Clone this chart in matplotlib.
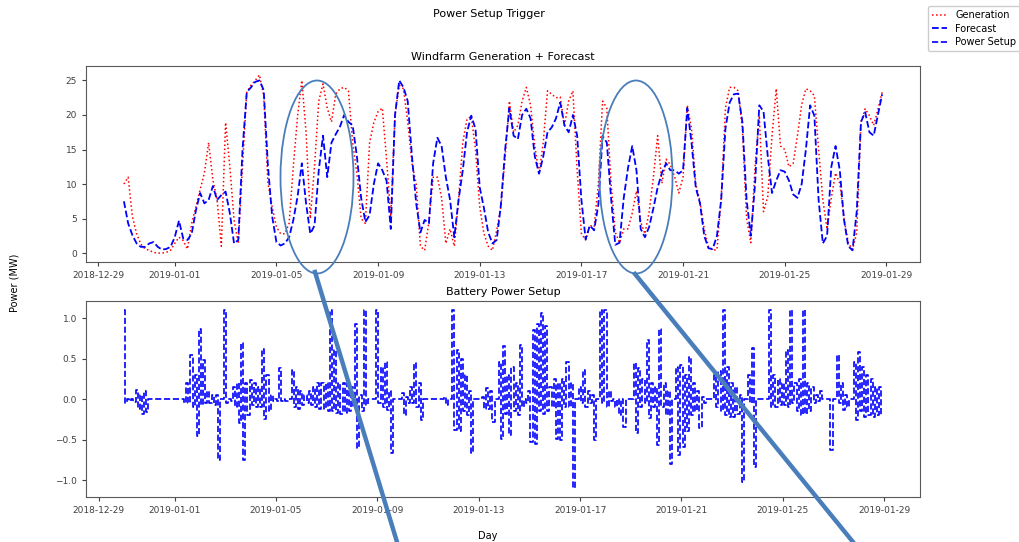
import numpy as np
import pandas as pd
import matplotlib
matplotlib.use('Agg')
import matplotlib.pyplot as plt
import matplotlib.dates as mdates
from matplotlib.patches import Ellipse
from matplotlib.lines import Line2D

# 4-hourly windfarm values (MW), starting 2018-12-30 00:00
generation = [
    10.0, 11.0, 5.3, 2.8, 1.3, 0.6,
    0.4, 0.1, 0.0, 0.0, 0.1, 0.4,
    1.4, 2.3, 1.8, 0.6, 4.3, 6.7,
    9.2, 11.6, 16.0, 10.6, 7.7, 1.0,
    18.9, 12.6, 4.8, 1.4, 12.6, 23.3,
    24.3, 25.0, 25.8, 22.8, 10.1, 6.7,
    3.8, 2.8, 2.8, 4.3, 12.6, 19.9,
    25.0, 17.5, 5.0, 12.6, 22.0, 24.5,
    21.0, 19.0, 23.0, 23.8, 24.0, 23.5,
    16.0, 11.5, 5.0, 4.3, 16.0, 18.9,
    20.5, 21.0, 13.6, 5.3, 20.0, 24.3,
    23.8, 19.0, 13.0, 10.0, 1.0, 0.4,
    4.5, 11.0, 11.0, 8.0, 1.4, 3.5,
    1.0, 7.7, 16.0, 19.4, 19.8, 15.0,
    6.7, 2.8, 1.0, 0.4, 3.3, 6.7,
    14.0, 22.0, 17.5, 18.5, 22.0, 24.0,
    21.4, 15.5, 11.5, 16.0, 23.5, 23.0,
    22.5, 22.6, 18.5, 22.0, 23.5, 12.0,
    2.8, 1.9, 4.0, 3.8, 10.0, 22.0,
    21.0, 10.1, 3.0, 1.5, 3.5, 3.5,
    5.8, 9.0, 4.5, 2.8, 6.0, 11.0,
    17.0, 10.1, 13.6, 12.8, 11.1, 8.7,
    11.0, 21.4, 18.0, 10.0, 7.5, 3.5,
    0.9, 0.4, 0.5, 8.0, 21.0, 24.0,
    24.0, 23.5, 18.0, 5.0, 1.5, 12.6,
    19.9, 6.0, 8.2, 17.0, 23.8, 15.5,
    15.0, 12.5, 13.0, 17.0, 21.5, 23.8,
    23.5, 22.8, 15.0, 7.7, 3.5, 8.0,
    11.6, 10.1, 5.0, 1.5, 0.5, 3.0,
    19.0, 20.9, 19.9, 18.5, 20.8, 23.3,
]
forecast = [
    7.5, 4.3, 2.6, 1.4, 0.9, 0.9,
    1.4, 1.6, 0.9, 0.5, 0.6, 0.9,
    2.3, 4.7, 2.1, 1.9, 2.8, 6.2,
    8.7, 7.2, 7.7, 9.7, 7.7, 8.4,
    8.9, 5.8, 1.4, 1.9, 15.0, 23.3,
    24.0, 24.8, 25.0, 23.6, 12.6, 5.3,
    1.6, 1.1, 1.4, 2.3, 4.8, 8.2,
    13.0, 7.2, 2.8, 4.0, 12.0, 17.0,
    11.0, 16.0, 17.2, 18.3, 20.0, 19.0,
    18.5, 14.0, 8.0, 4.5, 5.5, 10.0,
    13.0, 12.0, 10.5, 3.5, 20.0, 25.0,
    24.0, 22.0, 14.0, 7.2, 3.0, 4.8,
    4.3, 13.0, 16.7, 15.5, 11.0, 7.7,
    2.3, 7.7, 12.0, 17.5, 19.9, 18.0,
    9.5, 6.5, 3.0, 1.4, 1.9, 7.0,
    15.0, 21.0, 17.0, 16.5, 20.0, 20.9,
    19.5, 14.0, 11.5, 14.0, 17.5, 18.2,
    19.5, 21.8, 18.5, 17.5, 20.0, 17.0,
    7.7, 2.0, 4.0, 3.3, 7.0, 17.0,
    16.0, 8.0, 1.2, 1.5, 8.0, 12.3,
    15.5, 12.0, 3.5, 2.3, 3.8, 6.5,
    9.5, 11.6, 13.0, 12.0, 12.0, 11.5,
    12.0, 21.0, 16.0, 9.5, 7.2, 2.5,
    0.7, 0.6, 2.5, 7.7, 18.0, 21.8,
    23.0, 23.1, 19.0, 7.7, 2.5, 10.0,
    21.4, 20.5, 14.0, 8.7, 10.5, 12.0,
    11.8, 10.5, 8.5, 8.0, 10.0, 15.0,
    21.4, 19.9, 7.7, 1.4, 2.5, 12.5,
    15.5, 12.0, 4.8, 1.0, 0.4, 6.0,
    19.0, 20.4, 17.5, 17.0, 20.0, 23.0,
]

# battery setup: max / min seen in each 4-hour window
battery_hi = [
    1.10, 0.00, 0.00, 0.11, 0.05, 0.10,
    0.00, 0.00, 0.00, 0.00, 0.00, 0.00,
    0.00, 0.00, 0.00, 0.20, 0.54, 0.30,
    0.87, 0.48, 0.10, 0.05, 0.05, 0.00,
    1.10, 0.00, 0.15, 0.20, 0.69, 0.20,
    0.23, 0.20, 0.15, 0.62, 0.30, 0.05,
    0.00, 0.38, 0.00, 0.00, 0.36, 0.15,
    0.10, 0.05, 0.10, 0.15, 0.20, 0.20,
    0.20, 1.10, 0.60, 0.20, 0.20, 0.22,
    0.15, 0.93, 0.05, 1.10, 0.00, 0.00,
    1.10, 0.40, 0.46, 0.10, 0.00, 0.00,
    0.07, 0.02, 0.15, 0.44, 0.20, 0.00,
    0.00, 0.00, 0.00, 0.00, 0.02, 0.00,
    1.10, 0.60, 0.50, 0.30, 0.10, 0.00,
    0.00, 0.02, 0.13, 0.10, 0.00, 0.46,
    0.65, 0.30, 0.40, 0.20, 0.67, 0.00,
    0.10, 0.85, 0.93, 1.06, 0.90, 0.15,
    0.25, 0.20, 0.25, 0.46, 0.20, 0.00,
    0.15, 0.36, 0.10, 0.05, 0.00, 1.10,
    1.10, 0.10, 0.00, 0.00, 0.00, 0.00,
    0.00, 0.44, 0.38, 0.25, 0.73, 0.20,
    0.15, 0.87, 0.20, 0.10, 0.00, 0.40,
    0.42, 0.30, 0.52, 0.20, 0.10, 0.02,
    0.00, 0.00, 0.30, 0.35, 1.10, 0.40,
    0.20, 0.15, 0.05, 0.00, 0.30, 0.63,
    0.00, 0.00, 0.00, 1.10, 0.30, 0.25,
    0.20, 0.60, 1.10, 0.20, 0.25, 1.10,
    0.20, 0.15, 0.05, 0.10, 0.00, 0.00,
    0.00, 0.54, 0.20, 0.05, 0.00, 0.46,
    0.58, 0.40, 0.30, 0.25, 0.15, 0.15,
]
battery_lo = [
    -0.05, -0.03, -0.04, -0.12, -0.18, -0.16,
    0.00, 0.00, 0.00, 0.00, 0.00, 0.00,
    0.00, 0.00, -0.05, -0.05, -0.10, -0.46,
    -0.08, -0.05, -0.05, -0.08, -0.75, 0.00,
    -0.05, -0.03, -0.10, -0.30, -0.75, -0.20,
    -0.08, -0.10, -0.10, -0.25, -0.15, -0.03,
    -0.02, -0.02, -0.02, 0.00, -0.10, -0.12,
    -0.08, -0.05, -0.08, -0.10, -0.12, -0.12,
    -0.15, -0.15, -0.17, -0.18, -0.17, -0.15,
    -0.10, -0.60, -0.15, -0.08, 0.00, 0.00,
    -0.05, -0.10, -0.14, -0.67, 0.00, 0.00,
    -0.20, -0.05, -0.05, -0.10, -0.26, 0.00,
    0.00, 0.00, 0.00, 0.00, -0.08, 0.00,
    -0.38, -0.40, -0.15, -0.20, -0.67, 0.00,
    0.00, -0.12, -0.12, -0.28, 0.00, -0.49,
    -0.18, -0.45, -0.15, -0.20, -0.10, -0.05,
    -0.53, -0.55, -0.15, -0.18, -0.15, -0.10,
    -0.49, -0.51, -0.10, -0.10, -1.10, 0.00,
    -0.05, -0.10, -0.05, -0.50, 0.00, -0.05,
    -0.10, -0.02, -0.10, -0.20, -0.35, 0.00,
    0.00, -0.42, -0.10, -0.05, -0.24, -0.10,
    -0.57, -0.10, -0.20, -0.80, 0.00, -0.69,
    -0.59, -0.40, -0.20, -0.15, -0.36, -0.05,
    0.00, 0.00, -0.10, -0.15, -0.20, -0.22,
    -0.22, -0.18, -1.02, 0.00, -0.05, -0.84,
    0.00, 0.00, 0.00, -0.10, -0.10, -0.08,
    -0.08, -0.10, -0.05, -0.15, -0.20, -0.18,
    -0.15, -0.05, -0.02, 0.00, 0.00, -0.63,
    0.00, -0.05, -0.14, -0.10, 0.00, -0.26,
    -0.15, -0.22, -0.20, -0.22, -0.20, -0.20,
]

t = pd.date_range('2018-12-30 00:00', periods=len(generation), freq='4h')
t_bat = pd.date_range('2018-12-30 00:00', periods=2 * len(battery_hi), freq='2h')
battery = np.column_stack([battery_hi, battery_lo]).ravel()

fig = plt.figure(figsize=(10.19, 5.42), dpi=100)
ax1 = fig.add_axes([0.0844, 0.5166, 0.8185, 0.3616])
ax2 = fig.add_axes([0.0844, 0.0830, 0.8185, 0.3616])

l1, = ax1.plot(t, generation, 'r:', lw=1.1, label='Generation')
l2, = ax1.plot(t, forecast, 'b--', lw=1.3, label='Forecast')
ax1.set_title('Windfarm Generation + Forecast', fontsize=8, pad=4)
l3, = ax2.plot(t_bat, battery, 'b--', lw=1.2, drawstyle='steps-mid', label='Power Setup')
ax2.set_title('Battery Power Setup', fontsize=8, pad=4)

for ax in (ax1, ax2):
    ax.xaxis.set_major_locator(mdates.DayLocator(bymonthday=[1, 5, 9, 13, 17, 21, 25, 29]))
    ax.xaxis.set_major_formatter(mdates.DateFormatter('%Y-%m-%d'))
    ax.tick_params(labelsize=6.5, length=3, colors='0.25')
    for s in ax.spines.values():
        s.set_color('0.35')

fig.text(0.48, 0.975, 'Power Setup Trigger', ha='center', va='center', fontsize=8)
fig.text(0.0147, 0.478, 'Power (MW)', rotation=90, ha='center', va='center', fontsize=7)
fig.text(0.479, 0.011, 'Day', ha='center', va='center', fontsize=7)
fig.legend([l1, l2, l3], ['Generation', 'Forecast', 'Power Setup'], loc='upper right',
           bbox_to_anchor=(1.006, 0.997), fontsize=7, handlelength=1.6, borderpad=0.4,
           labelspacing=0.35, framealpha=1)

# hand drawn markup on top of the screenshot
ann = '#4a7ebb'
for cx in (317, 636):
    fig.add_artist(Ellipse((cx / 1019, 1 - 177 / 542), 73 / 1019, 193 / 542,
                           transform=fig.transFigure, fill=False, ec=ann, lw=1.3, zorder=5))
fig.add_artist(Line2D([315 / 1019, 397 / 1019], [1 - 272 / 542, 0], transform=fig.transFigure,
                      color=ann, lw=3.2, zorder=5))
fig.add_artist(Line2D([635 / 1019, 853 / 1019], [1 - 274 / 542, 0], transform=fig.transFigure,
                      color=ann, lw=3.2, zorder=5))

fig.savefig('out.png', dpi=100)
